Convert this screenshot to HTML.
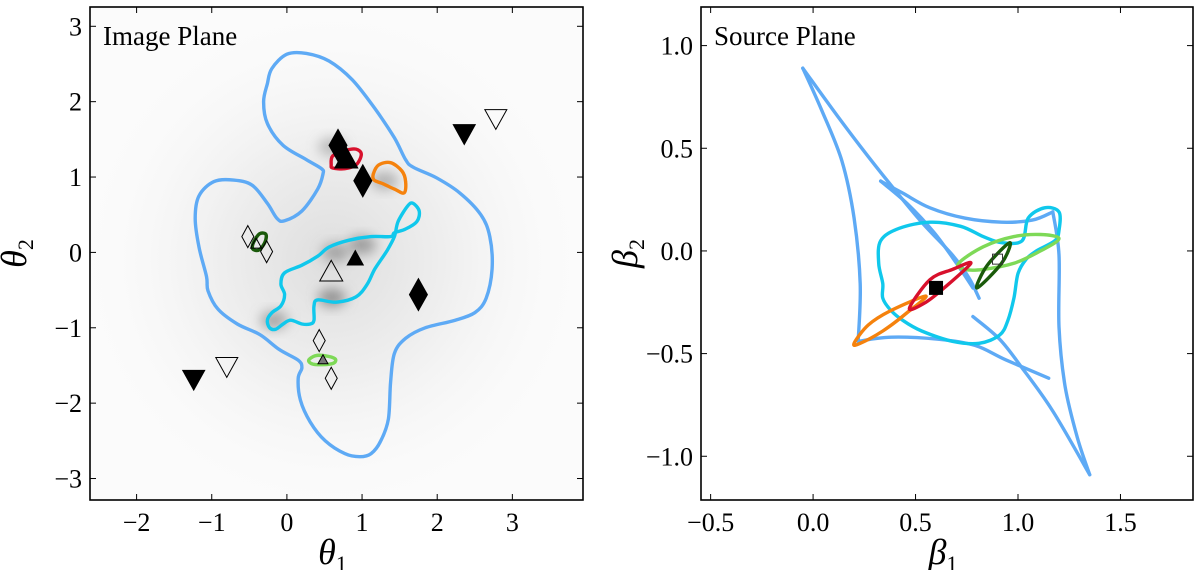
<!DOCTYPE html>
<html><head><meta charset="utf-8"><style>
body{margin:0;background:#fff;width:1200px;height:570px;overflow:hidden}
svg{display:block}
text{font-family:"Liberation Serif","DejaVu Serif",serif;fill:#000}
</style></head><body>
<svg id="fig" width="1200" height="570">
<defs>
<filter id="blur8" x="-50%" y="-50%" width="200%" height="200%"><feGaussianBlur stdDeviation="6"/></filter>
<radialGradient id="halo" cx="50%" cy="50%" r="50%"><stop offset="0" stop-color="#dedede"/><stop offset="0.45" stop-color="#efefef"/><stop offset="1" stop-color="#fbfbfb" stop-opacity="0"/></radialGradient>
<clipPath id="clipL"><rect x="90" y="7" width="493" height="493"/></clipPath>
<clipPath id="clipR"><rect x="701" y="7" width="492" height="493"/></clipPath>
</defs>
</svg>
<script>
// ---- Left panel data (image plane, theta units) ----
const critOuter=[[-0.26,2.24],[-0.31,2.00],[-0.26,1.71],[-0.05,1.42],[0.26,1.23],[0.46,1.11],[0.48,1.04],[0.41,0.84],[0.20,0.55],[-0.03,0.42],[-0.13,0.45],[-0.26,0.65],[-0.46,0.89],[-0.71,0.96],[-0.97,0.94],[-1.17,0.75],[-1.22,0.45],[-1.17,0.07],[-1.07,-0.32],[-1.05,-0.51],[-0.92,-0.75],[-0.66,-0.95],[-0.36,-1.09],[-0.10,-1.29],[0.15,-1.43],[0.20,-1.53],[0.15,-1.67],[0.18,-1.96],[0.31,-2.25],[0.51,-2.50],[0.77,-2.67],[0.97,-2.71],[1.12,-2.67],[1.25,-2.50],[1.35,-2.21],[1.38,-1.72],[1.43,-1.34],[1.58,-1.14],[1.84,-1.00],[2.24,-0.90],[2.50,-0.80],[2.65,-0.61],[2.73,-0.22],[2.70,0.21],[2.58,0.50],[2.30,0.79],[1.99,0.99],[1.68,1.13],[1.58,1.23],[1.43,1.52],[1.17,1.91],[0.87,2.29],[0.56,2.54],[0.26,2.64],[0.00,2.63],[-0.20,2.44]];
const critInner=[[-0.26,-0.90],[-0.20,-0.80],[-0.08,-0.71],[-0.03,-0.56],[-0.08,-0.42],[-0.03,-0.27],[0.20,-0.17],[0.41,-0.05],[0.56,0.07],[0.82,0.16],[1.12,0.21],[1.38,0.21],[1.43,0.26],[1.58,0.31],[1.73,0.41],[1.76,0.55],[1.68,0.65],[1.61,0.62],[1.48,0.41],[1.43,0.21],[1.33,0.02],[1.17,-0.22],[1.07,-0.42],[0.92,-0.59],[0.66,-0.66],[0.41,-0.63],[0.36,-0.71],[0.36,-0.90],[0.31,-0.95],[0.20,-0.95],[0.05,-0.90],[-0.05,-0.95],[-0.15,-1.02],[-0.23,-1.00]];
const imgRed=[[0.59,1.16],[0.61,1.28],[0.77,1.35],[0.92,1.37],[0.99,1.30],[0.92,1.16],[0.77,1.11],[0.61,1.12]];
const imgOrange=[[1.15,1.04],[1.22,1.16],[1.38,1.19],[1.53,1.08],[1.58,0.94],[1.56,0.79],[1.43,0.84],[1.28,0.91],[1.16,0.96]];
const imgDkGreen=[[-0.46,0.07],[-0.43,0.16],[-0.36,0.25],[-0.28,0.24],[-0.29,0.14],[-0.36,0.04],[-0.43,0.03]];
const imgLtGreen=[[0.29,-1.43],[0.38,-1.37],[0.50,-1.37],[0.64,-1.41],[0.62,-1.47],[0.47,-1.49],[0.34,-1.48]];
const blobs=[[0.6,-0.6,0.9],[-0.17,-0.9,0.7],[1.0,0.1,0.8],[1.3,0.95,0.6],[0.65,0.0,0.7],[0.6,1.4,0.5]];
const diamondsFilled=[[0.68,1.42],[1.01,0.95],[1.75,-0.56]];
const diamondsOpen=[[-0.52,0.21],[-0.27,0.01],[0.43,-1.17],[0.59,-1.67]];
const triUpFilled=[[0.79,1.23,23],[0.91,-0.09,16]];
const triUpOpen=[[0.59,-0.27,23],[-0.41,0.11,11]];
const triUpGray=[[0.48,-1.43,10]];
const triDownFilled=[[2.36,1.59],[-1.24,-1.67]];
const triDownOpen=[[2.78,1.79],[-0.80,-1.50]];
const xTicksL=[-2,-1,0,1,2,3];
const yTicksL=[-3,-2,-1,0,1,2,3];
// ---- Right panel data (source plane, beta units) ----
const caustics=[
 [[-0.05,0.89],[0.08,0.71],[0.23,0.51],[0.38,0.32],[0.53,0.14],[0.68,-0.02],[0.76,-0.13],[0.81,-0.23]],
 [[-0.05,0.89],[0.04,0.69],[0.14,0.44],[0.20,0.16],[0.23,-0.16],[0.22,-0.44]],
 [[0.33,0.34],[0.46,0.23],[0.59,0.09],[0.70,-0.06],[0.78,-0.18]],
 [[0.33,0.34],[0.44,0.28],[0.57,0.21],[0.74,0.16],[0.92,0.14],[1.07,0.15],[1.17,0.19]],
 [[1.17,0.19],[1.20,-0.02],[1.20,-0.37],[1.23,-0.66],[1.29,-0.91],[1.35,-1.09]],
 [[0.22,-0.44],[0.38,-0.42],[0.61,-0.43],[0.79,-0.46],[0.94,-0.53],[1.15,-0.62]],
 [[0.78,-0.32],[0.91,-0.43],[1.02,-0.57],[1.17,-0.78],[1.35,-1.09]]];
const causticInner=[[0.33,0.05],[0.42,0.11],[0.57,0.14],[0.72,0.12],[0.83,0.07],[0.92,0.04],[1.02,0.05],[1.05,0.16],[1.13,0.21],[1.20,0.19],[1.20,0.10],[1.18,0.05],[1.09,0.00],[1.04,-0.04],[1.00,-0.11],[0.98,-0.23],[0.95,-0.34],[0.91,-0.41],[0.81,-0.45],[0.68,-0.44],[0.53,-0.39],[0.44,-0.34],[0.38,-0.29],[0.34,-0.23],[0.34,-0.16],[0.32,-0.06]];
const srcLtGreen=[[0.71,-0.06],[0.83,0.02],[0.98,0.07],[1.11,0.08],[1.20,0.06],[1.11,0.00],[0.98,-0.06],[0.83,-0.09],[0.74,-0.09]];
const srcDkGreen=[[0.80,-0.18],[0.85,-0.07],[0.96,0.04],[0.92,-0.06]];
const srcRed=[[0.47,-0.28],[0.57,-0.14],[0.68,-0.09],[0.77,-0.06],[0.64,-0.18],[0.55,-0.25]];
const srcOrange=[[0.20,-0.45],[0.27,-0.36],[0.38,-0.29],[0.55,-0.22],[0.46,-0.30],[0.34,-0.39],[0.23,-0.45]];
const srcSquareFilled=[[0.60,-0.18]];
const srcSquareOpen=[[0.90,-0.04]];
const xTicksR=[-0.5,0,0.5,1.0,1.5];
const yTicksR=[-1.0,-0.5,0,0.5,1.0];

const NS="http://www.w3.org/2000/svg";
const svg=document.getElementById('fig');
function mk(tag,attrs,parent){const e=document.createElementNS(NS,tag);for(const k in attrs)e.setAttribute(k,attrs[k]);(parent||svg).appendChild(e);return e;}
function lin(d0,d1,p0,p1){return v=>p0+(v-d0)*(p1-p0)/(d1-d0);}
const LX=lin(-2.62,3.94,90,583), LY=lin(3.256,-3.285,7,500);
const RX=lin(-0.547,1.854,701,1193), RY=lin(1.188,-1.213,7,500);
function smooth(pts,X,Y,close){
 const P=pts.map(p=>[X(p[0]),Y(p[1])]);const n=P.length;let d='M'+P[0][0].toFixed(1)+','+P[0][1].toFixed(1);
 const N=close?n:n-1;
 for(let i=0;i<N;i++){const p0=P[close?(i-1+n)%n:Math.max(i-1,0)],p1=P[i],p2=P[(i+1)%n],p3=P[close?(i+2)%n:Math.min(i+2,n-1)];
  d+='C'+(p1[0]+(p2[0]-p0[0])/6).toFixed(1)+','+(p1[1]+(p2[1]-p0[1])/6).toFixed(1)+' '+(p2[0]-(p3[0]-p1[0])/6).toFixed(1)+','+(p2[1]-(p3[1]-p1[1])/6).toFixed(1)+' '+p2[0].toFixed(1)+','+p2[1].toFixed(1);}
 return d+(close?'Z':'');}

// ===== LEFT PANEL =====
const gL=mk('g',{'clip-path':'url(#clipL)'});


const bg=mk('rect',{x:90,y:7,width:493,height:493,fill:'#fbfbfb'},gL);


const halo=mk('ellipse',{cx:LX(0.6),cy:LY(-0.1),rx:260,ry:260,fill:'url(#halo)'},gL);


blobs.forEach(b=>{const e=mk('ellipse',{cx:LX(b[0]),cy:LY(b[1]),rx:14,ry:9,fill:'#888','fill-opacity':b[2],filter:'url(#blur8)'},gL);
 
 });
function curve(pts,X,Y,color,close,parent,name,w){const e=mk('path',{d:smooth(pts,X,Y,close),fill:'none',stroke:color,'stroke-width':w||3.4,'stroke-linejoin':'round','stroke-linecap':'round'},parent);
 
 return e;}
curve(critOuter,LX,LY,'#5eaaf5',true,gL,'critical-curve-outer');
curve(critInner,LX,LY,'#10c8ec',true,gL,'critical-curve-inner');
curve(imgRed,LX,LY,'#d8102c',true,gL,'image-red');
curve(imgOrange,LX,LY,'#f5820d',true,gL,'image-orange');
curve(imgDkGreen,LX,LY,'#1a5a0a',true,gL,'image-darkgreen');
curve(imgLtGreen,LX,LY,'#7ed957',true,gL,'image-lightgreen');
function diamond(x,y,w,h,fill,parent,name){const e=mk('path',{d:`M${x},${y-h/2}L${x+w/2},${y}L${x},${y+h/2}L${x-w/2},${y}Z`,fill:fill,stroke:'#000','stroke-width':1},parent);
 
 }
function tri(x,y,s,up,fill,parent,name){const h=s*0.9,d=up?`M${x},${y-h*0.6}L${x+s/2},${y+h*0.4}L${x-s/2},${y+h*0.4}Z`:`M${x},${y+h*0.6}L${x+s/2},${y-h*0.4}L${x-s/2},${y-h*0.4}Z`;
 const e=mk('path',{d:d,fill:fill,stroke:'#000','stroke-width':1},parent);
 
 }
diamondsFilled.forEach(p=>diamond(LX(p[0]),LY(p[1]),18,32,'#000',gL,'image-marker-diamond-filled'));
diamondsOpen.forEach(p=>diamond(LX(p[0]),LY(p[1]),12,22,'none',gL,'image-marker-diamond-open'));
triUpFilled.forEach(p=>tri(LX(p[0]),LY(p[1]),p[2],true,'#000',gL,'image-marker-triangle-filled'));
triUpOpen.forEach(p=>tri(LX(p[0]),LY(p[1]),p[2],true,'none',gL,'image-marker-triangle-open'));
triUpGray.forEach(p=>tri(LX(p[0]),LY(p[1]),p[2],true,'#777',gL,'image-marker-triangle-gray'));
triDownFilled.forEach(p=>tri(LX(p[0]),LY(p[1]),22,false,'#000',gL,'image-marker-triangle-down-filled'));
triDownOpen.forEach(p=>tri(LX(p[0]),LY(p[1]),22,false,'none',gL,'image-marker-triangle-down-open'));

// ===== RIGHT PANEL =====
const gR=mk('g',{'clip-path':'url(#clipR)'});


caustics.forEach(c=>curve(c,RX,RY,'#5eaaf5',false,gR,'caustic-outer'));
curve(causticInner,RX,RY,'#10c8ec',true,gR,'caustic-inner');
curve(srcLtGreen,RX,RY,'#7ed957',true,gR,'source-lightgreen');
curve(srcOrange,RX,RY,'#f5820d',true,gR,'source-orange');
curve(srcRed,RX,RY,'#d8102c',true,gR,'source-red');
curve(srcDkGreen,RX,RY,'#1a5a0a',true,gR,'source-darkgreen');
srcSquareFilled.forEach(p=>{const e=mk('rect',{x:RX(p[0])-7,y:RY(p[1])-7,width:14,height:14,fill:'#000'},gR);
 
 });
srcSquareOpen.forEach(p=>{const e=mk('rect',{x:RX(p[0])-5,y:RY(p[1])-5,width:10,height:10,fill:'none',stroke:'#333','stroke-width':1},gR);
 
 });

// ===== AXES =====
function axes(x0,x1,y0,y1,X,Y,xt,yt,fmt,xl,yl,title,prefix){
 const f=mk('rect',{x:x0,y:y0,width:x1-x0,height:y1-y0,fill:'none',stroke:'#000','stroke-width':1.6});
 
 
 xt.forEach(v=>{const x=X(v);
  mk('line',{x1:x,x2:x,y1:y1,y2:y1-6,stroke:'#000','stroke-width':1});mk('line',{x1:x,x2:x,y1:y0,y2:y0+6,stroke:'#000','stroke-width':1});
  const t=mk('text',{x:x,y:y1+31,'text-anchor':'middle','font-size':26});t.textContent=fmt(v);
  
  });
 yt.forEach(v=>{const y=Y(v);
  mk('line',{x1:x0,x2:x0+6,y1:y,y2:y,stroke:'#000','stroke-width':1});mk('line',{x1:x1,x2:x1-6,y1:y,y2:y,stroke:'#000','stroke-width':1});
  const t=mk('text',{x:x0-8,y:y+9,'text-anchor':'end','font-size':26});t.textContent=fmt(v);
  
  });
 const tx=mk('text',{x:(x0+x1)/2-4,y:y1+64,'text-anchor':'middle','font-size':36,'font-style':'italic'});tx.innerHTML=xl+'<tspan font-size="22" font-style="normal" dy="7">1</tspan>';
 
 
 const yx=x0-64,yy=(y0+y1)/2;
 const ty=mk('text',{x:yx,y:yy,'text-anchor':'middle','font-size':36,'font-style':'italic',transform:`rotate(-90 ${yx} ${yy})`});ty.innerHTML=yl+'<tspan font-size="22" font-style="normal" dy="7">2</tspan>';
 
 
 const tt=mk('text',{x:x0+13,y:y0+38,'font-size':27});tt.textContent=title;
 
 
}
const fmtL=v=>(v<0?'\u2212':'')+Math.abs(v);
const fmtR=v=>(v<0?'\u2212':'')+Math.abs(v).toFixed(1);
axes(90,583,7,500,LX,LY,xTicksL,yTicksL,fmtL,'θ','θ','Image Plane','image-plane');
axes(701,1193,7,500,RX,RY,xTicksR,yTicksR,fmtR,'β','β','Source Plane','source-plane');
</script>
</body></html>
